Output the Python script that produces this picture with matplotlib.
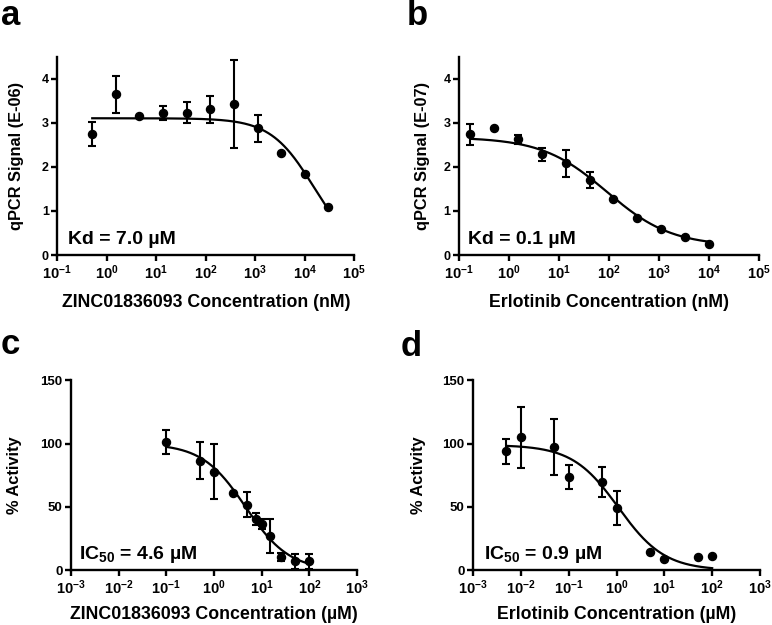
import numpy as np
import matplotlib
matplotlib.use("Agg")
import matplotlib.pyplot as plt
from matplotlib.ticker import LogFormatterSciNotation, NullLocator, FixedLocator

plt.rcParams['font.family'] = ['Liberation Sans', 'DejaVu Sans']
plt.rcParams['font.weight'] = 'bold'
plt.rcParams['mathtext.fontset'] = 'custom'
plt.rcParams['mathtext.rm'] = 'Liberation Sans:bold'
plt.rcParams['mathtext.bf'] = 'Liberation Sans:bold'
plt.rcParams['mathtext.it'] = 'Liberation Sans:bold'
plt.rcParams['axes.unicode_minus'] = False

# ---------------- data ----------------
a_x = [0.508, 1.52, 4.57, 13.7, 41.2, 123, 370, 1111, 3333, 10000, 30000]
a_y = [2.74, 3.64, 3.15, 3.21, 3.23, 3.30, 3.43, 2.87, 2.31, 1.83, 1.09]
a_err = [0.28, 0.41, 0.0, 0.16, 0.24, 0.30, 1.00, 0.31, 0.0, 0.0, 0.0]
a_fit = dict(top=3.1, bottom=0.0, ec50=15000, hill=1.0)

b_x = [0.169, 0.508, 1.52, 4.57, 13.7, 41.2, 123, 370, 1111, 3333, 10000]
b_y = [2.74, 2.87, 2.62, 2.28, 2.08, 1.70, 1.28, 0.83, 0.60, 0.40, 0.25]
b_err = [0.24, 0.0, 0.10, 0.15, 0.31, 0.19, 0.0, 0.0, 0.0, 0.0, 0.0]
b_fit = dict(top=2.67, bottom=0.2, ec50=90, hill=0.67)

c_x = [0.1, 0.5, 1, 2.5, 5, 7.5, 10, 15, 25, 50, 100]
c_y = [101, 86.6, 77.9, 61.3, 51.8, 40.8, 36.6, 27.1, 10.5, 7.0, 7.0]
c_err = [9.5, 14.7, 21.7, 0.0, 10.0, 4.7, 4.2, 13.5, 3.3, 5.8, 6.0]
c_fit = dict(top=100, bottom=0.0, ec50=4.6, hill=0.95)

d_x = [0.005, 0.01, 0.05, 0.1, 0.5, 1, 5, 10, 50, 100]
d_y = [94, 105, 97.4, 73.4, 69.5, 49.2, 14.5, 8.9, 10.8, 11.6]
d_err = [10.0, 24.3, 21.8, 9.5, 12.0, 13.7, 0.0, 0.0, 0.0, 0.0]
d_fit = dict(top=99, bottom=0.0, ec50=1.1, hill=0.9)

panels = [
    dict(label='a', x=a_x, y=a_y, err=a_err, fit=a_fit,
         xlim=(1e-1, 1e5), xt=[-1, 0, 1, 2, 3, 4, 5], ylim=(0, 4.5), yt=[0, 1, 2, 3, 4],
         xlabel='ZINC01836093 Concentration (nM)', ylabel='qPCR Signal (E-06)',
         note='Kd = 7.0 µM', box=(57.3, 354.3, 56.5, 255.0), lab=(1, 25), notexy=(68, 244),
         ylx=16, xlb=307, yts=9.0),
    dict(label='b', x=b_x, y=b_y, err=b_err, fit=b_fit,
         xlim=(1e-1, 1e5), xt=[-1, 0, 1, 2, 3, 4, 5], ylim=(0, 4.5), yt=[0, 1, 2, 3, 4],
         xlabel='Erlotinib Concentration (nM)', ylabel='qPCR Signal (E-07)',
         note='Kd = 0.1 µM', box=(459.0, 759.0, 56.5, 255.0), lab=(407, 25), notexy=(468, 244),
         ylx=422, xlb=307, yts=9.0),
    dict(label='c', x=c_x, y=c_y, err=c_err, fit=c_fit,
         xlim=(1e-3, 1e3), xt=[-3, -2, -1, 0, 1, 2, 3], ylim=(0, 150), yt=[0, 50, 100, 150],
         xlabel='ZINC01836093 Concentration (µM)', ylabel='% Activity',
         note='IC$_{50}$ = 4.6 µM', box=(71.0, 357.0, 380.3, 570.3), lab=(1, 354), notexy=(79, 559),
         ylx=15, xlb=619, yts=9.5),
    dict(label='d', x=d_x, y=d_y, err=d_err, fit=d_fit,
         xlim=(1e-3, 1e3), xt=[-3, -2, -1, 0, 1, 2, 3], ylim=(0, 150), yt=[0, 50, 100, 150],
         xlabel='Erlotinib Concentration (µM)', ylabel='% Activity',
         note='IC$_{50}$ = 0.9 µM', box=(473.0, 760.0, 380.3, 570.3), lab=(401, 356), notexy=(484, 559),
         ylx=419, xlb=619, yts=9.5),
]

W, H = 772, 625
fig = plt.figure(figsize=(W / 100, H / 100), dpi=100)


def fourpl(x, top, bottom, ec50, hill):
    return bottom + (top - bottom) / (1 + (x / ec50) ** hill)


for p in panels:
    l, r, t, b = p['box']
    ax = fig.add_axes([l / W, (H - b) / H, (r - l) / W, (b - t) / H])
    ax.set_xscale('log')
    ax.set_xlim(*p['xlim'])
    ax.set_ylim(*p['ylim'])
    ax.xaxis.set_major_locator(FixedLocator([10.0 ** k for k in p['xt']]))
    ax.xaxis.set_major_formatter(LogFormatterSciNotation())
    ax.xaxis.set_minor_locator(NullLocator())
    ax.set_yticks(p['yt'])
    ax.set_yticklabels([f'{v:g}' for v in p['yt']])
    for s in ['top', 'right']:
        ax.spines[s].set_visible(False)
    for s in ['left', 'bottom']:
        ax.spines[s].set_linewidth(1.7)
    ax.tick_params(axis='x', direction='out', length=4, width=1.7, labelsize=10.5, pad=2)
    ax.tick_params(axis='y', direction='out', length=4, width=1.7, labelsize=p['yts'], pad=2)
    for lbl in ax.get_yticklabels():
        lbl.set_fontweight('bold')

    xs = np.logspace(np.log10(min(p['x'])), np.log10(max(p['x'])), 300)
    ax.plot(xs, fourpl(xs, **p['fit']), color='black', lw=1.6, zorder=2)
    ax.errorbar(p['x'], p['y'], yerr=p['err'], fmt='o', color='black', ms=5.8,
                ecolor='black', elinewidth=1.5, capsize=3, capthick=1.5, zorder=3,
                clip_on=False)

    ax.set_xlabel(p['xlabel'], fontsize=12.8, fontweight='bold', va='baseline')
    ax.xaxis.set_label_coords(0.5, (b - p['xlb']) / (b - t))
    ax.set_ylabel(p['ylabel'], fontsize=11.8, fontweight='bold', va='center')
    ax.yaxis.set_label_coords((p['ylx'] - l) / (r - l), 0.5)

    nx, ny = p['notexy']
    ax.text((nx - l) / (r - l), (b - ny) / (b - t), p['note'], transform=ax.transAxes,
            fontsize=14, fontweight='bold', ha='left', va='baseline')

    lx, ly = p['lab']
    fig.text(lx / W, 1 - ly / H, p['label'], fontsize=25, fontweight='bold',
             ha='left', va='baseline')

fig.savefig('out.png', dpi=100)
